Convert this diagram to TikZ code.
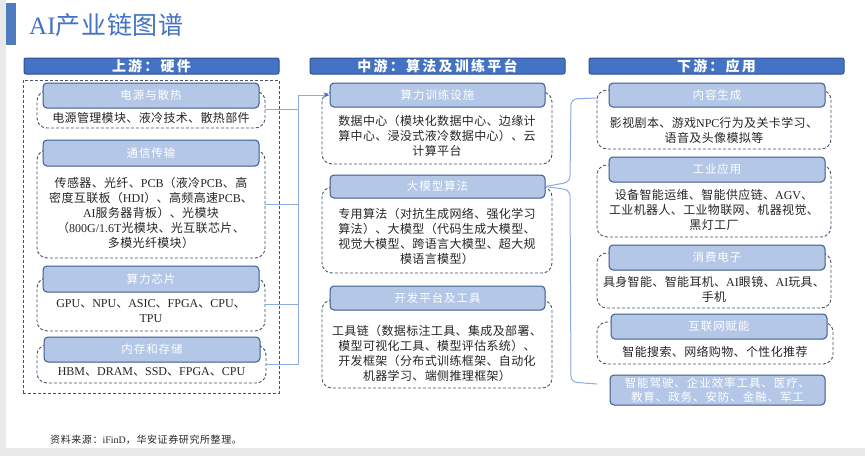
\documentclass[tikz,border=0pt]{standalone}
\usepackage{fontspec}
\setmainfont{Noto Sans CJK SC}[LetterSpace=3]
\newfontfamily\latf{Liberation Serif}
\newfontfamily\hdf{Noto Sans CJK SC}[LetterSpace=8]
\newfontfamily\mhf{Noto Sans CJK SC}[LetterSpace=16]
\newfontfamily\ftf{Noto Sans CJK SC}[LetterSpace=6]
\newcommand\E[1]{{\latf #1}}
\usetikzlibrary{arrows.meta}
\definecolor{hdr}{HTML}{4472C4}
\definecolor{hdrb}{HTML}{2F528F}
\definecolor{subf}{HTML}{B4C7E7}
\definecolor{subb}{HTML}{3A5A8C}
\definecolor{dashcol}{HTML}{44546A}
\definecolor{conncol}{HTML}{8FAADC}
\definecolor{arrcol}{HTML}{4472C4}
\definecolor{txt}{HTML}{262626}
\definecolor{ttl}{HTML}{4472C4}
\definecolor{ttlbar}{HTML}{4F7CC0}
\definecolor{bgcol}{HTML}{E9E9E9}
\tikzset{
  dbox/.style={draw=dashcol, line width=0.9pt, dash pattern=on 3pt off 2pt, rounded corners=10pt, inner sep=0pt},
  subh/.style={draw=subb, fill=subf, line width=1pt, rounded corners=4pt, text=white, inner sep=0pt, font=\hdf\fontsize{11.5}{14}\selectfont},
  mainh/.style={draw=hdrb, fill=hdr, line width=1pt, rounded corners=2pt, text=white, inner sep=0pt, font=\mhf\bfseries\fontsize{14}{16}\selectfont},
  btext/.style={align=center, text=txt, inner sep=0pt, font=\fontsize{12}{15}\selectfont},
  connline/.style={draw=conncol, line width=1pt},
}
\begin{document}
\begin{tikzpicture}[x=1pt,y=-1pt]
\path[use as bounding box, fill=bgcol] (0,0) rectangle (865,456);
\fill[white] (6,0) rectangle (865,448);
% title
\fill[ttlbar] (6,3) rectangle (16,45);
\node[anchor=west, inner sep=0pt, text=ttl, font=\fontsize{25}{28}\selectfont] (title) at (29,25) {\E{AI}产业链图谱};
% main headers
\node[mainh, minimum width=255pt, minimum height=16pt] (HL) at (151.5,66) {上游：硬件};
\node[mainh, minimum width=255pt, minimum height=16pt] (HM) at (437.5,66) {中游：算法及训练平台};
\node[mainh, minimum width=255pt, minimum height=16pt] (HR) at (716.5,66) {下游：应用};
% left column
\node[dbox, rounded corners=0pt, minimum width=256pt, minimum height=313pt] (Lout) at (151,236.5) {};
\node[dbox, minimum width=228pt, minimum height=37pt] (L1) at (151,109.5) {};
\node[subh, minimum width=216pt, minimum height=25pt] (L1h) at (151,95.5) {电源与散热};
\node[btext] (L1t) at (151,118) {电源管理模块、液冷技术、散热部件};
\node[dbox, minimum width=228pt, minimum height=108pt] (L2) at (151,204) {};
\node[subh, minimum width=216pt, minimum height=26pt] (L2h) at (151,153) {通信传输};
\node[btext] (L2t) at (151,212.5) {传感器、光纤、\E{PCB}（液冷\E{PCB}、高\\密度互联板（\E{HDI}）、高频高速\E{PCB}、\\\E{AI}服务器背板）、光模块\\（\E{800G/1.6T}光模块、光互联芯片、\\多模光纤模块）};
\node[dbox, minimum width=228pt, minimum height=53pt] (L3) at (151,304.5) {};
\node[subh, minimum width=216pt, minimum height=26pt] (L3h) at (151,279) {算力芯片};
\node[btext] (L3t) at (151,311) {\E{GPU}、\E{NPU}、\E{ASIC}、\E{FPGA}、\E{CPU}、\\\E{TPU}};
\node[dbox, minimum width=229pt, minimum height=38pt] (L4) at (151.5,364) {};
\node[subh, minimum width=216pt, minimum height=25pt] (L4h) at (152,349.5) {内存和存储};
\node[btext] (L4t) at (151.5,372) {\E{HBM}、\E{DRAM}、\E{SSD}、\E{FPGA}、\E{CPU}};
% middle column
\node[dbox, minimum width=230pt, minimum height=72pt] (M1) at (437,128) {};
\node[subh, minimum width=215pt, minimum height=24pt] (M1h) at (437.5,95) {算力训练设施};
\node[btext] (M1t) at (437,135.5) {数据中心（模块化数据中心、边缘计\\算中心、浸没式液冷数据中心）、云\\计算平台};
\node[dbox, minimum width=230pt, minimum height=86pt] (M2) at (437,230) {};
\node[subh, minimum width=215pt, minimum height=23pt] (M2h) at (437.5,186.5) {大模型算法};
\node[btext] (M2t) at (437,236) {专用算法（对抗生成网络、强化学习\\算法）、大模型（代码生成大模型、\\视觉大模型、跨语言大模型、超大规\\模语言模型）};
\node[dbox, minimum width=230pt, minimum height=88pt] (M3) at (437,344) {};
\node[subh, minimum width=215pt, minimum height=24pt] (M3h) at (437.5,298) {开发平台及工具};
\node[btext] (M3t) at (437,353) {工具链（数据标注工具、集成及部署、\\模型可视化工具、模型评估系统）、\\开发框架（分布式训练框架、自动化\\机器学习、端侧推理框架）};
% right column
\node[dbox, minimum width=234pt, minimum height=59pt] (R1) at (714,119.5) {};
\node[subh, minimum width=216pt, minimum height=24pt] (R1h) at (717,95) {内容生成};
\node[btext] (R1t) at (714,130) {影视剧本、游戏\E{NPC}行为及关卡学习、\\语音及头像模拟等};
\node[dbox, minimum width=234pt, minimum height=72pt] (R2) at (714,201) {};
\node[subh, minimum width=216pt, minimum height=25pt] (R2h) at (717,169.5) {工业应用};
\node[btext] (R2t) at (714,210) {设备智能运维、智能供应链、\E{AGV}、\\工业机器人、工业物联网、机器视觉、\\黑灯工厂};
\node[dbox, minimum width=234pt, minimum height=55pt] (R3) at (714,280.5) {};
\node[subh, minimum width=216pt, minimum height=25pt] (R3h) at (717,257.5) {消费电子};
\node[btext] (R3t) at (714,289) {具身智能、智能耳机、\E{AI}眼镜、\E{AI}玩具、\\手机};
\node[dbox, minimum width=236pt, minimum height=42pt] (R4) at (715,343) {};
\node[subh, minimum width=216pt, minimum height=25pt] (R4h) at (719,326.5) {互联网赋能};
\node[btext] (R4t) at (715,352) {智能搜索、网络购物、个性化推荐};
\node[subh, minimum width=215pt, minimum height=30pt, align=center, font=\hdf\fontsize{11.5}{14}\selectfont] (R5) at (717.5,390) {智能驾驶、企业效率工具、医疗、\\教育、政务、安防、金融、军工};
% connectors left -> middle
\coordinate (busT) at (298,95);
\draw[connline] (L1.east) -- (L1.east -| busT);
\draw[connline] (L2.east) -- (L2.east -| busT);
\draw[connline] (L3.east) -- (L3.east -| busT);
\draw[connline] (L4.east) -- (L4.east -| busT) -- (busT);
\draw[connline, -{Stealth[length=6pt,width=5pt,color=arrcol]}] (busT) -- (M1h.west);
% brace middle -> right
\coordinate (Rtop) at (597,98);
\coordinate (Rbot) at (597,384);
\draw[connline, rounded corners=6pt] (Rtop) -- (571,99) -- (570,182) -- (M2h.east);
\draw[connline, rounded corners=6pt] (M2h.east) -- (570,190) -- (571,382) -- (Rbot);
% footer
\node[anchor=west, inner sep=0pt, text=txt, font=\ftf\fontsize{10}{12}\selectfont] (src) at (50,440) {资料来源：\E{iFinD}，华安证券研究所整理。};
\end{tikzpicture}
\end{document}
